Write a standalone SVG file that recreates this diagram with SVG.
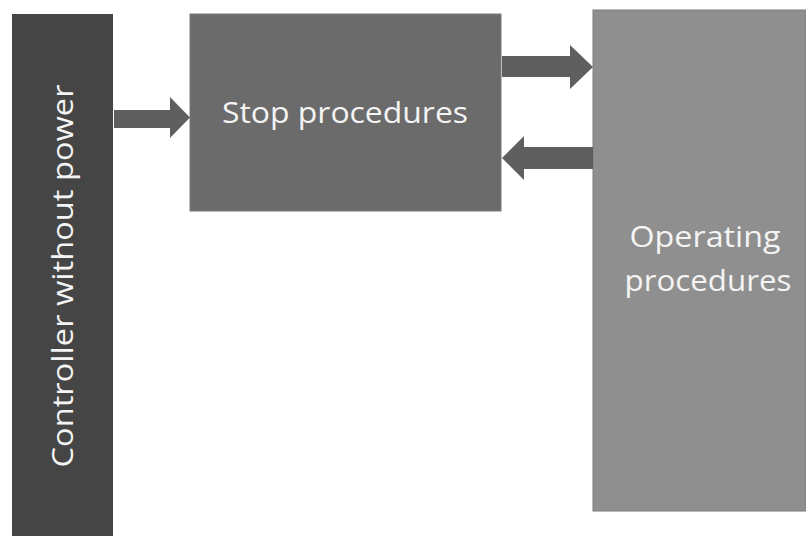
<svg xmlns="http://www.w3.org/2000/svg" width="806" height="536" viewBox="0 0 806 536">
<style>
.lbl{font-family:"Open Sans","Noto Sans","DejaVu Sans",sans-serif;font-size:30px;fill:#f4f4f4}
.arr{fill:#5f5f5f}
</style>
<rect width="806" height="536" fill="#ffffff"/>
<g id="controller">
<rect x="12" y="14" width="101" height="522" fill="#454545"/>
<text class="lbl" transform="translate(73,276) rotate(-90)" text-anchor="middle" textLength="383" lengthAdjust="spacingAndGlyphs">Controller without power</text>
</g>
<g id="stop">
<rect x="190" y="14" width="311" height="197" fill="#6b6b6b" stroke="#7a7a7a" stroke-width="1"/>
<text class="lbl" x="345" y="123" text-anchor="middle" textLength="246" lengthAdjust="spacingAndGlyphs">Stop procedures</text>
</g>
<g id="operating">
<rect x="593" y="10" width="213" height="501" fill="#8f8f8f" stroke="#7d7d7d" stroke-width="1"/>
<text class="lbl" x="705" y="247" text-anchor="middle" textLength="151" lengthAdjust="spacingAndGlyphs">Operating</text>
<text class="lbl" x="708" y="291" text-anchor="middle" textLength="167" lengthAdjust="spacingAndGlyphs">procedures</text>
</g>
<g id="connectors">
<polygon class="arr" points="114,110 170,110 170,97 190,117.5 170,138 170,128 114,128"/>
<polygon class="arr" points="502,56 570,56 570,45 593,67 570,89 570,77 502,77"/>
<polygon class="arr" points="593,147 524,147 524,136 502,158 524,180 524,169 593,169"/>
</g>
</svg>
